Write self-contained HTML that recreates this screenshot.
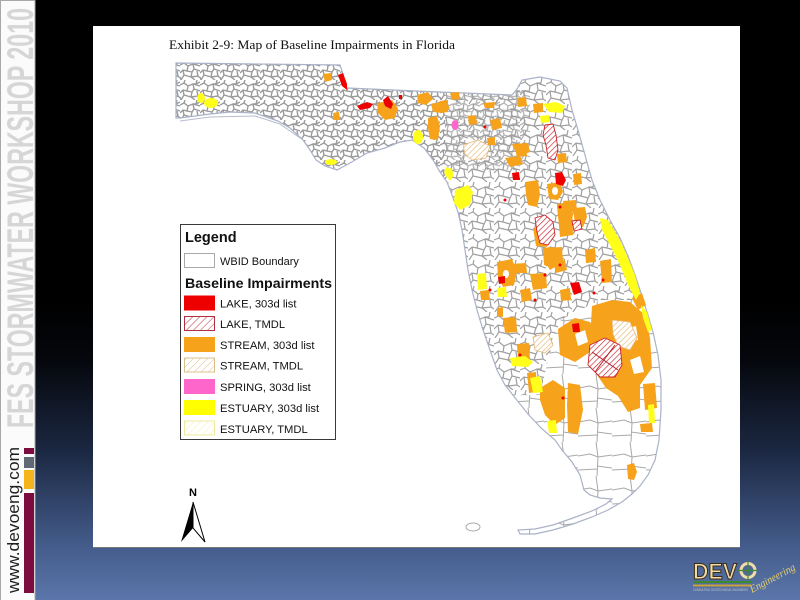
<!DOCTYPE html>
<html><head><meta charset="utf-8"><style>
html,body{margin:0;padding:0;width:800px;height:600px;overflow:hidden;background:#000}
svg{display:block}
</style></head><body>
<svg width="800" height="600" viewBox="0 0 800 600" xmlns="http://www.w3.org/2000/svg">
<defs>
 <linearGradient id="bg" x1="0" y1="0" x2="0" y2="1">
  <stop offset="0" stop-color="#000"/>
  <stop offset="0.5" stop-color="#000"/>
  <stop offset="0.6" stop-color="#05070c"/>
  <stop offset="0.75" stop-color="#1b2741"/>
  <stop offset="0.91" stop-color="#445c8b"/>
  <stop offset="1" stop-color="#5b76aa"/>
 </linearGradient>
 <pattern id="pd" width="20" height="20" patternUnits="userSpaceOnUse"><path d="M0,5 L4,3 L8,6 L13,4 L20,6 M8,6 L7,11 L3,10 L0,13 M7,11 L12,12 L14,9 L13,4 M12,12 L11,17 L15,20 M14,9 L20,11 M3,10 L4,15 L1,20 M4,15 L11,17 M17,0 L16,4 L13,4 M11,17 L18,16 L20,18 M4,3 L5,0 M16,4 L20,2 M0,17 L1,20 M18,16 L17,11" fill="none" stroke="#9a9a9a" stroke-width="1.4"/></pattern>
 <pattern id="pm" width="26" height="26" patternUnits="userSpaceOnUse"><path d="M0,6 L5,4 L10,8 L17,5 L26,8 M10,8 L9,14 L4,13 L0,17 M9,14 L16,16 L18,12 L17,5 M16,16 L14,22 L19,26 M18,12 L26,14 M4,13 L5,20 L1,26 M5,20 L14,22 M22,0 L21,5 L17,5 M14,22 L23,21 L26,23 M5,4 L6,0 M23,21 L22,14" fill="none" stroke="#a0a0a0" stroke-width="1.2"/></pattern>
 <pattern id="ps" width="34" height="34" patternUnits="userSpaceOnUse"><path d="M0,14 L12,12 L20,15 L34,13 M20,15 L19,34 M18,0 L20,15 M0,28 L19,27 M19,24 L34,26" fill="none" stroke="#a8a8a8" stroke-width="1"/></pattern>
 <pattern id="hr" width="4" height="4" patternUnits="userSpaceOnUse" patternTransform="rotate(45)"><rect width="4" height="4" fill="#fff"/><line x1="0" y1="0" x2="0" y2="4" stroke="#c8232b" stroke-width="1.3"/></pattern>
 <pattern id="ht" width="4" height="4" patternUnits="userSpaceOnUse" patternTransform="rotate(45)"><rect width="4" height="4" fill="#fff"/><line x1="0" y1="0" x2="0" y2="4" stroke="#e6b877" stroke-width="1.3"/></pattern>
 <pattern id="hrL" width="5" height="5" patternUnits="userSpaceOnUse" patternTransform="rotate(45)"><rect width="5" height="5" fill="#fff"/><line x1="0" y1="0" x2="0" y2="5" stroke="#c0303a" stroke-width="1"/></pattern>
 <pattern id="htL" width="5" height="5" patternUnits="userSpaceOnUse" patternTransform="rotate(45)"><rect width="5" height="5" fill="#fff"/><line x1="0" y1="0" x2="0" y2="5" stroke="#e2c08a" stroke-width="1"/></pattern>
 <pattern id="hyL" width="5" height="5" patternUnits="userSpaceOnUse" patternTransform="rotate(45)"><rect width="5" height="5" fill="#fff"/><line x1="0" y1="0" x2="0" y2="5" stroke="#f4f0a0" stroke-width="1"/></pattern>
 <clipPath id="fl"><path d="M176,63 L340,65 L343,74 L347,88 L440,92 L512,95 L517,89 L522,80 L540,77 L560,81 L567,88 L572,110 L578,130 L585,155 L592,180 L600,200 L610,220 L620,238 L628,256 L635,275 L641,293 L647,312 L653,332 L658,355 L661,380 L661,410 L659,440 L655,460 L648,475 L640,486 L632,494 L622,502 L608,510 L592,517 L573,524 L553,530 L535,534 L520,534 L518,530 L535,529 L553,525 L573,518 L592,511 L606,504 L612,499 L600,498 L590,495 L584,490 L580,475 L572,462 L562,450 L555,440 L541,428 L528,414 L516,399 L505,385 L497,370 L490,350 L483,330 L477,310 L472,290 L468,270 L465,250 L462,230 L458,212 L452,195 L447,182 L440,172 L433,160 L424,148 L412,140 L400,142 L385,148 L367,153 L350,163 L337,170 L325,166 L316,160 L310,150 L303,140 L290,128 L278,121 L255,113 L230,112 L210,114 L180,118 L176,118 Z"/></clipPath>
</defs>

<rect width="800" height="600" fill="url(#bg)"/>

<!-- sidebar -->
<rect x="0" y="0" width="35" height="600" fill="#fbfbfb"/>
<rect x="0.5" y="0.5" width="34.5" height="600" fill="none" stroke="#a8a8a8" stroke-width="1"/>
<text transform="translate(33,428) rotate(-90)" font-family="Liberation Sans, sans-serif" font-weight="bold" font-size="37" fill="#d6d6d6" textLength="420" lengthAdjust="spacingAndGlyphs">FES STORMWATER WORKSHOP 2010</text>
<text transform="translate(19,593) rotate(-90)" font-family="Liberation Sans, sans-serif" font-size="17" fill="#1e1e1e" textLength="146" lengthAdjust="spacingAndGlyphs">www.devoeng.com</text>
<rect x="24" y="448" width="10" height="6" fill="#7c0b40"/>
<rect x="24" y="457" width="10" height="11" fill="#5f6873"/>
<rect x="24" y="470" width="10" height="19" fill="#f5b41c"/>
<rect x="24" y="493" width="10" height="100" fill="#7c0b40"/>

<!-- white panel -->
<rect x="93" y="26" width="647" height="521" fill="#fff"/>
<line x1="93" y1="547.5" x2="740" y2="547.5" stroke="#777" stroke-width="1"/>

<text x="169" y="49" font-family="Liberation Serif, serif" font-size="12.5" fill="#111" textLength="286" lengthAdjust="spacingAndGlyphs">Exhibit 2-9: Map of Baseline Impairments in Florida</text>

<!-- map texture -->
<g clip-path="url(#fl)">
 <rect x="150" y="50" width="550" height="500" fill="url(#ps)"/>
 <path d="M150,50 L700,50 L700,300 L660,310 L640,300 L600,300 L560,320 L548,360 L540,395 L150,400 Z" fill="#fff"/>
 <path d="M150,50 L700,50 L700,300 L660,310 L640,300 L600,300 L560,320 L548,360 L540,395 L150,400 Z" fill="url(#pm)"/>
 <path d="M150,50 L445,50 L445,200 L150,200 Z" fill="#fff"/>
 <path d="M150,50 L445,50 L445,200 L150,200 Z" fill="url(#pd)"/>
 <path d="M445,90 L530,90 L530,170 L445,170 Z" fill="url(#pd)" opacity="0.7"/>
</g>
<path d="M176,63 L340,65 L343,74 L347,88 L440,92 L512,95 L517,89 L522,80 L540,77 L560,81 L567,88 L572,110 L578,130 L585,155 L592,180 L600,200 L610,220 L620,238 L628,256 L635,275 L641,293 L647,312 L653,332 L658,355 L661,380 L661,410 L659,440 L655,460 L648,475 L640,486 L632,494 L622,502 L608,510 L592,517 L573,524 L553,530 L535,534 L520,534 L518,530 L535,529 L553,525 L573,518 L592,511 L606,504 L612,499 L600,498 L590,495 L584,490 L580,475 L572,462 L562,450 L555,440 L541,428 L528,414 L516,399 L505,385 L497,370 L490,350 L483,330 L477,310 L472,290 L468,270 L465,250 L462,230 L458,212 L452,195 L447,182 L440,172 L433,160 L424,148 L412,140 L400,142 L385,148 L367,153 L350,163 L337,170 L325,166 L316,160 L310,150 L303,140 L290,128 L278,121 L255,113 L230,112 L210,114 L180,118 L176,118 Z" fill="none" stroke="#aab2c8" stroke-width="1.2"/>
<path d="M180,121 L210,117 L255,116 L280,124 L300,138" fill="none" stroke="#b5bccf" stroke-width="1"/>
<ellipse cx="473" cy="527" rx="7" ry="4" fill="#fff" stroke="#aaa" stroke-width="1"/>

<!-- orange -->
<g fill="#f7a21b">
 <polygon points="323,74 331,73 332,80 325,82"/>
 <polygon points="333,113 339,112 340,120 334,120"/>
 <polygon points="378,103 392,100 398,108 395,118 385,120 377,112"/>
 <polygon points="417,95 428,92 433,99 426,105 418,103"/>
 <polygon points="431,104 445,101 450,108 442,113 433,112"/>
 <polygon points="428,118 437,116 440,126 438,140 430,139 428,128"/>
 <polygon points="450,93 459,92 460,99 452,100"/>
 <polygon points="440,101 448,100 448,112 441,113"/>
 <polygon points="468,116 476,115 477,124 469,125"/>
 <polygon points="483,103 495,102 494,108 485,108"/>
 <polygon points="487,138 495,137 495,145 488,145"/>
 <polygon points="505,158 520,156 523,164 510,167"/>
 <polygon points="515,149 526,148 527,156 517,157"/>
 <polygon points="533,104 543,103 543,112 534,113"/>
 <polygon points="557,154 566,153 567,162 558,163"/>
 <polygon points="573,174 581,173 582,184 574,185"/>
 <polygon points="525,182 538,180 540,195 537,207 528,205 526,195"/>
 <polygon points="547,184 560,182 563,192 558,200 549,199"/>
 <polygon points="557,205 570,203 573,215 570,230 560,228 558,217"/>
 <polygon points="573,208 585,207 587,217 583,227 575,225"/>
 <polygon points="533,228 546,227 550,240 547,247 536,246"/>
 <polygon points="543,248 552,247 553,260 550,267 544,265"/>
 <polygon points="553,261 565,260 567,270 556,273"/>
 <polygon points="512,144 528,143 530,152 518,157"/>
 <polygon points="517,98 526,97 527,106 518,107"/>
 <polygon points="557,204 572,202 573,235 560,237"/>
 <polygon points="543,248 562,247 563,262 550,270 545,262"/>
 <polygon points="497,262 512,259 517,272 514,285 503,287 498,276"/>
 <polygon points="510,264 526,263 527,273 512,273"/>
 <polygon points="530,274 546,273 547,288 533,290"/>
 <polygon points="480,291 489,290 490,300 481,300"/>
 <polygon points="497,308 503,307 503,317 497,316"/>
 <polygon points="503,318 516,317 517,332 505,333"/>
 <polygon points="517,344 529,343 530,359 518,360"/>
 <polygon points="527,373 536,372 537,392 529,393"/>
 <polygon points="600,261 611,259 612,282 602,283"/>
 <polygon points="563,201 576,200 577,212 565,213"/>
 <polygon points="520,290 530,288 532,300 522,302"/>
 <polygon points="560,290 570,288 571,300 561,301"/>
 <polygon points="585,250 595,248 596,262 586,263"/>
 <polygon points="490,120 500,118 502,128 492,130"/>
 <polygon points="558,329 575,318 590,322 600,340 590,352 575,362 560,355"/>
 <polygon points="592,306 612,300 630,302 645,315 650,338 652,368 640,385 640,408 628,412 618,396 606,388 595,372 590,340"/>
 <polygon points="632,298 642,293 646,305 638,310"/>
 <polygon points="540,388 553,380 565,388 565,418 555,425 545,415 540,400"/>
 <polygon points="568,383 580,385 583,410 578,434 568,432 567,405"/>
 <polygon points="627,465 634,463 637,472 634,480 628,479"/>
 <polygon points="643,384 655,383 657,408 645,410"/>
 <polygon points="640,424 652,423 653,432 641,432"/>
 <polygon points="610,320 616,316 620,328 612,330"/>
</g>
<!-- white gaps in big orange -->
<g fill="#fff">
 <polygon points="575,334 585,330 588,342 578,346"/>
 <polygon points="622,330 636,326 638,340 625,342"/>
 <polygon points="630,360 640,356 644,372 634,374"/>
 <ellipse cx="555" cy="191" rx="3" ry="4"/>
 <ellipse cx="506" cy="274" rx="3" ry="4"/>
</g>

<!-- tan hatch (stream TMDL) -->
<g fill="url(#ht)" stroke="#e5b878" stroke-width="0.8">
 <polygon points="463,145 478,140 490,146 486,158 472,160 465,154"/>
 <polygon points="612,320 630,322 637,338 630,350 618,346 613,334"/>
 <polygon points="533,337 548,333 553,345 545,353 535,350"/>
</g>

<!-- yellow -->
<g fill="#ffff1a">
 <ellipse cx="201" cy="98" rx="4" ry="5"/>
 <ellipse cx="211" cy="103" rx="7" ry="5"/>
 <ellipse cx="331" cy="162" rx="6" ry="3"/>
 <ellipse cx="418" cy="137" rx="5" ry="7"/>
 <ellipse cx="450" cy="174" rx="3" ry="6"/>
 <polygon points="455,190 468,185 473,192 470,205 460,210 454,203"/>
 <polygon points="543,104 556,102 565,106 562,113 549,112"/>
 <polygon points="540,116 549,115 550,122 541,123"/>
 <polygon points="600,218 608,220 620,240 628,258 635,275 640,293 636,300 628,285 620,265 610,245 602,230"/>
 <polygon points="641,305 647,312 652,330 648,332 643,318"/>
 <polygon points="477,274 486,273 487,289 478,290"/>
 <polygon points="497,288 506,287 507,297 498,297"/>
 <polygon points="510,358 525,356 533,362 528,367 512,366"/>
 <polygon points="530,378 540,376 543,392 533,393"/>
 <polygon points="547,421 556,420 557,433 549,433"/>
 <polygon points="648,405 654,404 655,423 649,423"/>
 <ellipse cx="447" cy="172" rx="2.5" ry="5"/>
</g>

<!-- pink -->
<ellipse cx="455" cy="125" rx="3.5" ry="5" fill="#ff66cc"/>

<!-- red solid -->
<g fill="#ee0000">
 <polygon points="338,75 343,73 347,84 347,90 342,86"/>
 <polygon points="357,106 367,102 373,104 370,108 360,110"/>
 <polygon points="383,100 388,96 393,104 391,109 385,106"/>
 <rect x="399" y="95" width="3" height="4"/>
 <polygon points="512,173 519,172 520,180 513,180"/>
 <polygon points="555,173 562,172 566,180 563,186 556,184"/>
 <polygon points="570,283 579,282 582,292 574,295"/>
 <polygon points="498,277 505,276 505,283 499,284"/>
 <polygon points="572,324 579,323 580,332 573,332"/>
 <circle cx="505" cy="200" r="1.5"/>
 <circle cx="560" cy="207" r="1.5"/>
 <circle cx="535" cy="300" r="1.5"/>
 <circle cx="560" cy="265" r="1.5"/>
 <circle cx="520" cy="355" r="1.5"/>
 <circle cx="490" cy="290" r="1.5"/>
 <circle cx="485" cy="127" r="1.5"/>
 <circle cx="603" cy="280" r="1.5"/>
 <circle cx="545" cy="275" r="1.5"/>
 <circle cx="594" cy="293" r="1.5"/>
 <circle cx="563" cy="398" r="1.5"/>
</g>

<!-- red hatch (lake TMDL) -->
<g fill="url(#hr)" stroke="#c8232b" stroke-width="0.9">
 <polygon points="545,125 553,124 556,135 558,150 555,160 548,158 546,145 543,135"/>
 <polygon points="535,218 545,215 553,222 555,235 548,245 540,243 537,232"/>
 <polygon points="572,221 580,220 582,229 574,231"/>
 <polygon points="590,345 605,338 620,345 622,365 615,377 600,377 588,365"/>
</g>
<path d="M592,352 L618,370 M595,372 L615,345" stroke="#b01c24" stroke-width="1"/>

<!-- legend -->
<rect x="180.5" y="224.5" width="155" height="215" fill="#fff" stroke="#3a3a3a" stroke-width="1"/>
<g font-family="Liberation Sans, sans-serif" fill="#111">
 <text x="185" y="242" font-size="14.5" font-weight="bold">Legend</text>
 <rect x="184.5" y="253.5" width="30" height="14" fill="#fff" stroke="#aaa"/>
 <text x="220" y="265" font-size="11">WBID Boundary</text>
 <text x="185" y="288" font-size="14" font-weight="bold" textLength="147" lengthAdjust="spacingAndGlyphs">Baseline Impairments</text>
 <rect x="184" y="295.5" width="31" height="15" fill="#ee0000"/>
 <text x="220" y="307.5" font-size="11.2">LAKE, 303d list</text>
 <rect x="184.5" y="316.5" width="30" height="14" fill="url(#hrL)" stroke="#b03040"/>
 <text x="220" y="328" font-size="11.2">LAKE, TMDL</text>
 <rect x="184" y="337" width="31" height="15" fill="#f7a21b"/>
 <text x="220" y="349" font-size="11.2">STREAM, 303d list</text>
 <rect x="184.5" y="358" width="30" height="14" fill="url(#htL)" stroke="#dcc08a"/>
 <text x="220" y="369.5" font-size="11.2">STREAM, TMDL</text>
 <rect x="184" y="379" width="31" height="15" fill="#ff66cc"/>
 <text x="220" y="391" font-size="11.2">SPRING, 303d list</text>
 <rect x="184" y="400" width="31" height="15" fill="#ffff00"/>
 <text x="220" y="412" font-size="11.2">ESTUARY, 303d list</text>
 <rect x="184.5" y="421" width="30" height="14" fill="url(#hyL)" stroke="#efe9a0"/>
 <text x="220" y="433" font-size="11.2">ESTUARY, TMDL</text>
</g>

<!-- north arrow -->
<text x="193" y="496" font-family="Liberation Sans, sans-serif" font-weight="bold" font-size="11" text-anchor="middle" fill="#000">N</text>
<polygon points="193,502 181,542 193,528" fill="#000"/>
<polygon points="193,502 205,542 193,528" fill="#fff" stroke="#000" stroke-width="1"/>

<!-- DEVO logo -->
<text x="693" y="579" font-family="Liberation Sans, sans-serif" font-weight="bold" font-size="22" fill="#f0dca8" stroke="#3a2c18" stroke-width="1" textLength="44" lengthAdjust="spacingAndGlyphs">DEV</text>
<circle cx="748" cy="570.5" r="7" fill="none" stroke="#f0dca8" stroke-width="3"/>
<line x1="738" y1="570.5" x2="758" y2="570.5" stroke="#3d8a2d" stroke-width="1.2"/>
<line x1="748" y1="561" x2="748" y2="580" stroke="#3d8a2d" stroke-width="1.2"/>
<rect x="693" y="581" width="58" height="2" fill="#3d8a2d"/>
<rect x="693" y="584.5" width="58" height="2" fill="#c9a03a"/>
<text x="693" y="591" font-family="Liberation Sans, sans-serif" font-size="3.5" fill="#c8c8c8" textLength="55" lengthAdjust="spacingAndGlyphs">CONSULTING GEOTECHNICAL ENGINEERS</text>
<text transform="translate(752,593) rotate(-28)" font-family="Liberation Serif, serif" font-style="italic" font-size="11" fill="#e7cf6a" textLength="50" lengthAdjust="spacingAndGlyphs">Engineering</text>
</svg>
</body></html>
